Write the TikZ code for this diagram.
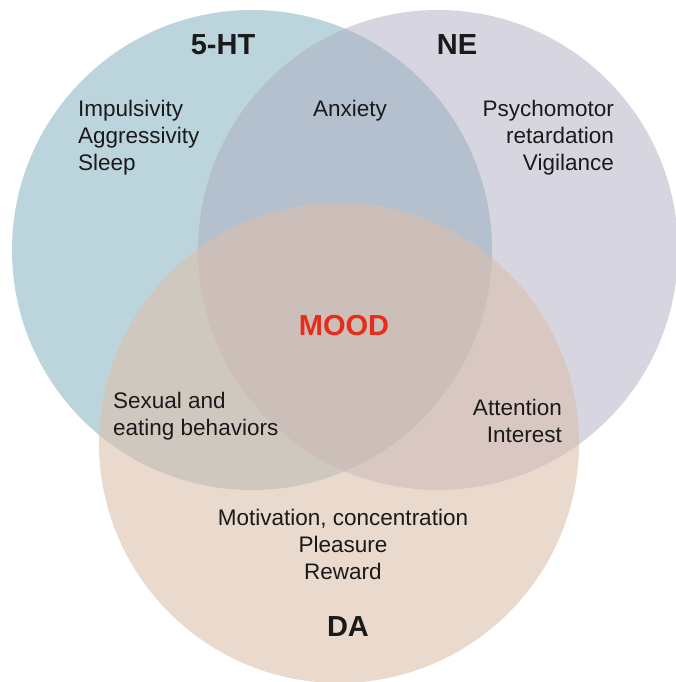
\documentclass[tikz,border=0pt]{standalone}
\usepackage{fontspec}
\setmainfont{Liberation Sans}
\usetikzlibrary{positioning}

\definecolor{serotonin blue}{RGB}{121,171,187}
\definecolor{norepinephrine grey}{RGB}{175,171,193}
\definecolor{dopamine tan}{RGB}{220,192,172}
\definecolor{mood red}{RGB}{230,45,25}
\definecolor{ink}{RGB}{26,26,26}

\tikzset{
  role text/.style={font=\fontsize{22.5}{27}\selectfont, inner sep=0pt, text=ink},
  system name/.style={font=\fontsize{29}{34}\selectfont\bfseries, inner sep=0pt, text=ink},
}

\begin{document}
\begin{tikzpicture}[x=1pt, y=-1pt]
	\def\rad{240pt};

	\useasboundingbox (0,0) rectangle (676,682);

	\coordinate (serotonin centre) at (252,250);
	\coordinate (norepinephrine centre) at (438,250);
	\coordinate (dopamine centre) at (339,443);

	\begin{scope}[fill opacity=0.5]
		\fill [serotonin blue] (serotonin centre) circle [radius=\rad];
		\fill [norepinephrine grey] (norepinephrine centre) circle [radius=\rad];
	\end{scope}
	\begin{scope}[fill opacity=0.6]
		\fill [dopamine tan] (dopamine centre) circle [radius=\rad];
	\end{scope}

	\node [system name] (serotonin label) at (223,45) {5-HT};
	\node [system name] (norepinephrine label) at (457,45) {NE};
	\node [system name] (dopamine label) at (348,627) {DA};
	\node [system name, text=mood red] (mood) at (344,326) {MOOD};

	\node [role text, align=left, anchor=west] (serotonin roles) at (78,138) {Impulsivity\\Aggressivity\\Sleep};
	\node [role text] (anxiety) at (350,111) {Anxiety};
	\node [role text, align=right, anchor=east] (norepinephrine roles) at (614,138) {Psychomotor\\retardation\\Vigilance};
	\node [role text, align=left, anchor=west] (appetite) at (113,416) {Sexual and\\eating behaviors};
	\node [role text, align=right, anchor=east] (attention) at (562,421) {Attention\\Interest};
	\node [role text, align=center] (reward) at (343,544) {Motivation, concentration\\Pleasure\\Reward};
\end{tikzpicture}
\end{document}
